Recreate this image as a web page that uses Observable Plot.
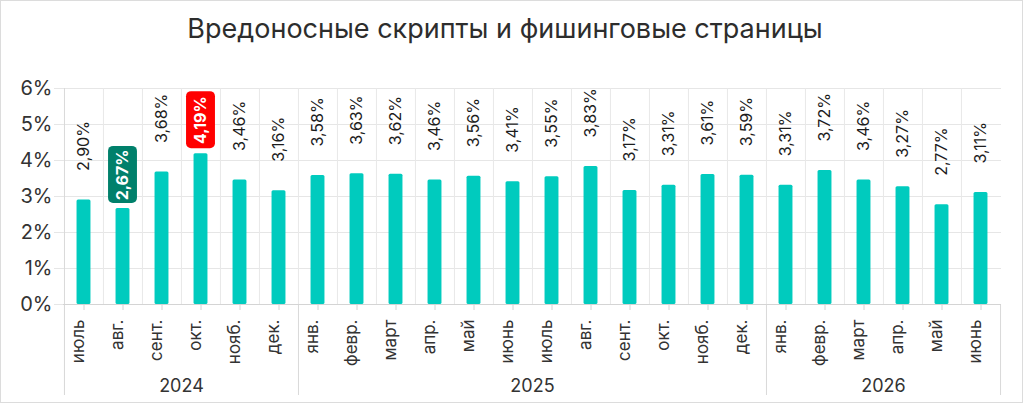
<!DOCTYPE html>
<html><head><meta charset="utf-8">
<script src="https://cdn.jsdelivr.net/npm/d3@7"></script>
<script src="https://cdn.jsdelivr.net/npm/@observablehq/plot@0.6"></script>
<style>
body{margin:0;background:#fff;}
#wrap{position:relative;width:1024px;height:404px;overflow:hidden;font-family:Inter, sans-serif;background:#fff;}
#border{position:absolute;left:0;top:0;width:1023px;height:403px;box-sizing:border-box;border:1px solid #dcdcdc;pointer-events:none;}
#title{position:absolute;left:0;top:0;width:1010px;height:60px;line-height:58px;text-align:center;font-size:27px;color:#2d2d2d;}
#chart{position:absolute;left:0;top:60px;}
</style></head><body>
<div id="wrap"><div id="title">Вредоносные скрипты и фишинговые страницы</div><div id="chart"></div><div id="border"></div></div>
<script>
const months = ["июль","авг.","сент.","окт.","нояб.","дек.",
  "янв.","февр.","март","апр.","май","июнь","июль","авг.","сент.","окт.","нояб.","дек.",
  "янв.","февр.","март","апр.","май","июнь"];
const years = ["2024","2024","2024","2024","2024","2024",
  "2025","2025","2025","2025","2025","2025","2025","2025","2025","2025","2025","2025",
  "2026","2026","2026","2026","2026","2026"];
const values = [2.90,2.67,3.68,4.19,3.46,3.16,
  3.58,3.63,3.62,3.46,3.56,3.41,3.55,3.83,3.17,3.31,3.61,3.59,
  3.31,3.72,3.46,3.27,2.77,3.11];
const yTicks = [0,1,2,3,4,5,6];
const yearLabels = ["2024","2025","2026"];

const data = months.map((m,i)=>({key: years[i]+"|"+i, month: m, year: years[i], value: values[i]}));
const keys = data.map(d=>d.key);
const minD = d3.least(data, d=>d.value);
const maxD = d3.greatest(data, d=>d.value);
const normal = data.filter(d=>d!==minD && d!==maxD);
const groups = yearLabels.map(y=>{
  const g = data.filter(d=>d.year===y);
  return {year:y, first:g[0].key, last:g[g.length-1].key, mid:g[Math.floor(g.length/2)].key};
});
const fmt = v => v.toFixed(2).replace(".", ",") + "%";

const W=1024,H=344,mt=28,mb=100,ml=63,mr=23;
const band=(W-ml-mr)/data.length;
const frameH=H-mt-mb;
const FONT="Inter, sans-serif";
const barW=14, boxW=29;

const chart = Plot.plot({
  width:W,height:H,marginTop:mt,marginBottom:mb,marginLeft:ml,marginRight:mr,
  x:{type:"band",domain:keys,padding:0,axis:null},
  y:{domain:[0,6],axis:null},
  style:{fontFamily:FONT,background:"transparent",overflow:"visible",color:"#333"},
  marks:[
    Plot.ruleY(yTicks,{y:d=>d,stroke:"#e6e6e6",insetLeft:-9}),
    Plot.ruleX(keys.slice(1),{x:d=>d,dx:-band/2,stroke:"#e8e8e8"}),
    Plot.ruleX(data,{x:"key",insetTop:frameH,insetBottom:-6,stroke:"#d4d4d4"}),
    Plot.ruleX(groups,{x:"first",dx:-band/2,insetTop:frameH,insetBottom:-91,stroke:"#d9d9d9"}),
    Plot.ruleX([keys[0]],{x:d=>d,dx:-band/2,insetBottom:-91,stroke:"#d9d9d9"}),
    Plot.ruleX([keys[keys.length-1]],{x:d=>d,dx:band/2,insetTop:frameH,insetBottom:-91,stroke:"#d9d9d9"}),
    Plot.ruleY([0],{stroke:"#d4d4d4"}),
    Plot.barY(data,{x:"key",y:"value",fill:"#00CBBE",insetLeft:(band-barW)/2,insetRight:(band-barW)/2,rx:1.5}),
    Plot.text(normal,{x:"key",y:"value",text:d=>fmt(d.value),rotate:-90,textAnchor:"start",dy:-29,fontSize:16,fill:"#1c1c1c"}),
    Plot.barY([minD],{x:"key",y1:"value",y2:"value",insetTop:-62,insetBottom:5,insetLeft:(band-boxW)/2,insetRight:(band-boxW)/2,fill:"#00806B",rx:5}),
    Plot.barY([maxD],{x:"key",y1:"value",y2:"value",insetTop:-62,insetBottom:5,insetLeft:(band-boxW)/2,insetRight:(band-boxW)/2,fill:"#FF0000",rx:5}),
    Plot.text([minD,maxD],{x:"key",y:"value",text:d=>fmt(d.value),rotate:-90,textAnchor:"middle",dy:-33.5,fontSize:16,fontWeight:"bold",fill:"#fff"}),
    Plot.text(data,{x:"key",text:"month",frameAnchor:"bottom",rotate:-90,textAnchor:"end",dy:15,fontSize:17,fill:"#333"}),
    Plot.text(yTicks,{y:d=>d,text:d=>d+"%",frameAnchor:"left",textAnchor:"end",dx:-11,fontSize:20,fill:"#333"}),
    Plot.text(groups,{x:"mid",text:"year",frameAnchor:"bottom",dx:-band/2,dy:87,fontSize:18,fill:"#333"})
  ]
});
document.getElementById("chart").appendChild(chart);
</script>
</body></html>
